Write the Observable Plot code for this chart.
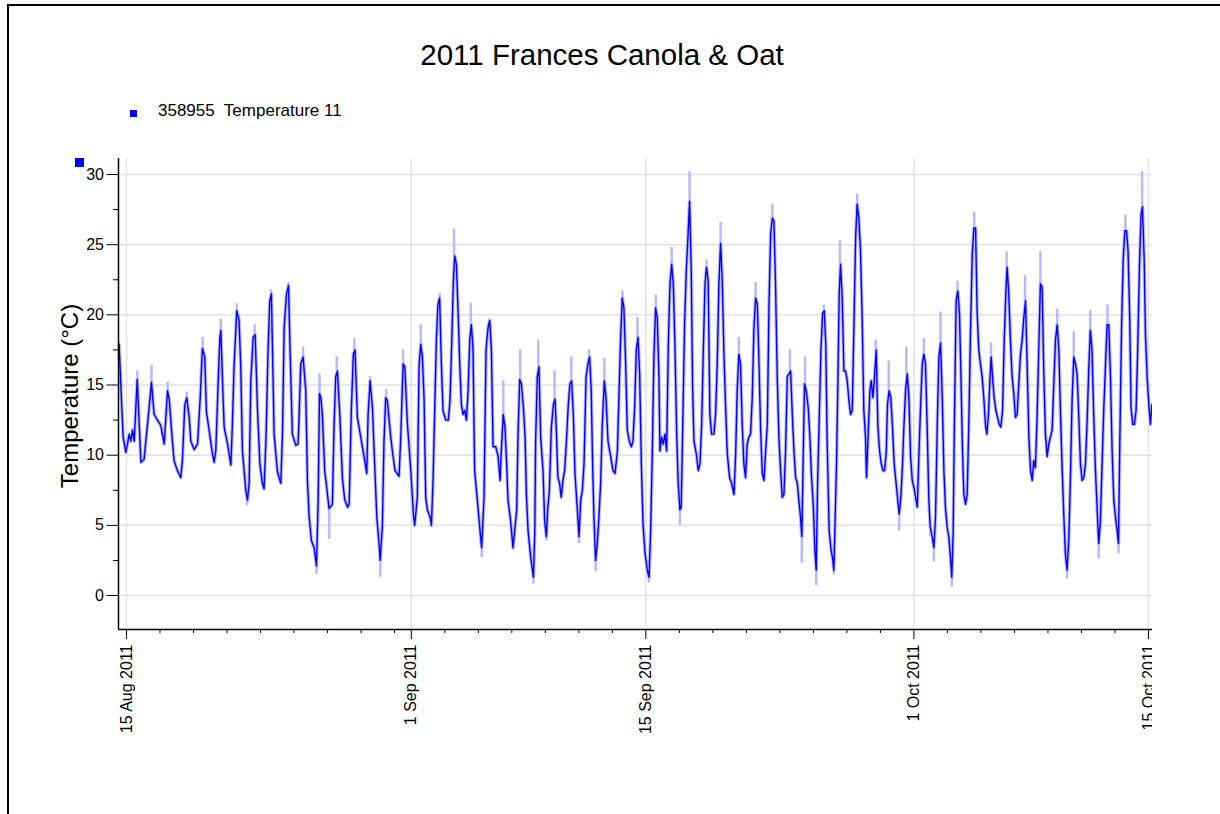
<!DOCTYPE html>
<html>
<head>
<meta charset="utf-8">
<script src="https://cdn.jsdelivr.net/npm/d3@7"></script>
<script src="https://cdn.jsdelivr.net/npm/@observablehq/plot@0.6"></script>
<style>
  body { margin: 0; background: #fff; font-family: "Liberation Sans", Arial, sans-serif; }
  #page { position: relative; width: 1220px; height: 814px; overflow: hidden; background: #fff; }
  .frameTop { position: absolute; left: 7px; top: 4px; width: 1230px; height: 2px; background: #000; }
  .frameLeft { position: absolute; left: 7px; top: 4px; width: 2px; height: 830px; background: #000; }
  #title { position: absolute; left: 0; top: 40px; width: 1204px; text-align: center; font-size: 29.5px; line-height: 1; color: #000; white-space: pre; }
  #legend { position: absolute; left: 130px; top: 110px; width: 7px; height: 7px; background: #0000ff; }
  #legendText { position: absolute; left: 158px; top: 102.3px; font-size: 17px; line-height: 1; color: #000; white-space: pre; }
  #marker { position: absolute; left: 75px; top: 158px; width: 9px; height: 9px; background: #0000ff; z-index: 2; }
  #ylabel { position: absolute; left: -80px; top: 384px; width: 300px; text-align: center; font-size: 24px; line-height: 1; transform: rotate(-90deg); transform-origin: 150px 12px; color: #000; white-space: pre; }
  #chart { position: absolute; left: 0; top: 140px; }
</style>
</head>
<body>
<div id="page">
  <div class="frameTop"></div>
  <div class="frameLeft"></div>
  <div id="title"></div>
  <div id="legend"></div>
  <div id="legendText"></div>
  <div id="ylabel"></div>
  <div id="chart"></div>
  <div id="marker"></div>
</div>
<script>
// ---- Text ----
const chartTitle = "2011 Frances Canola & Oat";
const seriesName = "358955  Temperature 11";
const yTitle = "Temperature (°C)";

// ---- Data: [days since 15 Aug 2011 00:00, temperature °C] ----
const augReadings = [
  [-0.44,17.9],[-0.30,13.9],[-0.20,11.3],[-0.04,10.2],[0.06,10.8],[0.16,11.5],[0.26,11.0],[0.36,11.8],[0.46,11.0],[0.64,15.4],
  [0.86,9.5],[1.05,9.7],[1.35,13.4],[1.49,15.2],[1.65,12.9],[1.85,12.5],[2.05,12.1],[2.25,10.8],[2.45,14.6],[2.55,14.0],
  [2.74,11.0],[2.84,9.6],[3.04,8.9],[3.24,8.4],[3.34,9.7],[3.48,13.6],[3.60,14.1],[3.74,12.7],[3.84,11.0],[4.04,10.4],
  [4.24,10.8],[4.40,14.1],[4.53,17.6],[4.67,17.0],[4.77,13.1],[4.93,11.8],[5.13,10.1],[5.23,9.5],[5.33,10.3],[5.47,15.1],
  [5.57,18.3],[5.63,18.9],[5.73,15.3],[5.83,12.0],[6.03,10.8],[6.23,9.3],[6.32,12.2],[6.42,16.3],[6.58,20.3],[6.72,19.6],
  [6.82,16.3],[6.92,10.3],[7.12,7.5],[7.22,6.8],[7.32,8.0],[7.42,15.3],[7.56,18.4],[7.68,18.6],[7.82,13.2],[7.96,9.4],
  [8.11,8.0],[8.21,7.6],[8.33,11.3],[8.45,17.5],[8.55,21.0],[8.65,21.5],[8.75,15.3],[8.81,11.5],[9.01,8.8],[9.21,8.0],
  [9.31,11.5],[9.41,19.1],[9.55,21.5],[9.67,22.1],[9.77,17.2],[9.90,11.5],[10.10,10.7],[10.24,10.8],[10.30,12.7],[10.40,16.5],
  [10.54,17.0],[10.70,14.6],[10.80,8.2],[10.90,5.6],[11.04,3.9],[11.20,3.4],[11.34,2.1],[11.44,6.8],[11.52,14.4],[11.60,14.1],
  [11.69,12.9],[11.83,8.9],[11.95,7.7],[12.09,6.2],[12.29,6.5],[12.39,12.2],[12.49,15.6],[12.59,16.0],[12.73,12.9],[12.89,8.3],
  [13.03,6.8],[13.19,6.3],[13.29,6.5],[13.42,13.2],[13.54,17.2],[13.64,17.5],[13.78,12.7],[13.98,11.3],[14.18,9.9],[14.34,8.7],
  [14.42,12.9],[14.54,15.3],[14.68,13.4],[14.78,10.3],[14.94,5.6],[15.08,3.6],[15.14,2.5],[15.27,4.9],[15.37,11.0],[15.47,14.1],
  [15.57,13.9],[15.77,11.3],[15.87,10.3],[16.03,8.9],[16.27,8.5],[16.37,11.3],[16.51,16.5],[16.61,16.3],[16.77,12.2],[16.97,8.9]
];
const sepReadings = [
  [17.12,5.9],[17.20,5.0],[17.36,7.0],[17.46,16.3],[17.56,17.9],[17.66,17.0],[17.76,14.1],[17.86,7.0],[17.96,6.1],[18.12,5.6],
  [18.20,5.0],[18.30,8.3],[18.40,13.4],[18.50,18.4],[18.59,20.7],[18.69,21.2],[18.79,16.7],[18.89,13.2],[19.05,12.5],[19.21,12.5],
  [19.31,13.9],[19.41,17.9],[19.51,22.4],[19.59,24.2],[19.69,23.6],[19.79,20.3],[19.89,16.5],[19.99,13.6],[20.09,12.9],[20.19,13.2],
  [20.29,12.5],[20.39,14.6],[20.49,18.2],[20.58,19.3],[20.68,17.7],[20.78,8.9],[20.94,6.8],[21.08,4.9],[21.20,3.4],[21.34,7.0],
  [21.46,17.5],[21.58,19.1],[21.68,19.6],[21.78,17.5],[21.88,10.6],[22.04,10.6],[22.18,9.9],[22.30,8.2],[22.37,10.3],[22.49,12.9],
  [22.59,12.0],[22.69,9.4],[22.77,6.8],[22.93,5.3],[23.07,3.4],[23.17,4.6],[23.29,6.1],[23.37,11.5],[23.47,15.4],[23.57,15.1],
  [23.69,13.4],[23.79,11.3],[23.87,7.2],[23.97,4.6],[24.13,2.7],[24.29,1.3],[24.37,4.6],[24.42,11.0],[24.52,15.6],[24.62,16.3],
  [24.72,11.3],[24.86,8.9],[24.96,5.3],[25.06,4.2],[25.14,6.1],[25.24,7.5],[25.36,12.0],[25.48,13.6],[25.58,14.0],[25.65,12.0],
  [25.75,8.4],[25.85,8.0],[25.95,7.0],[26.05,8.2],[26.15,8.9],[26.25,10.8],[26.37,13.6],[26.47,15.1],[26.57,15.3],[26.67,12.9],
  [26.77,8.7],[26.91,6.1],[27.01,4.2],[27.11,6.8],[27.21,7.5],[27.31,9.4],[27.43,15.6],[27.54,16.5],[27.64,17.0],[27.74,14.6],
  [27.82,9.4],[27.90,5.6],[28.00,2.5],[28.10,3.7],[28.20,5.6],[28.30,8.0],[28.40,12.2],[28.52,15.3],[28.62,14.1],[28.74,11.0],
  [28.90,9.9],[29.04,8.9],[29.16,8.7],[29.30,10.3],[29.39,14.1],[29.49,18.2],[29.59,21.2],[29.69,20.5],[29.79,16.7],[29.89,11.8],
  [30.01,11.0],[30.13,10.6],[30.23,11.0],[30.33,13.4],[30.43,17.5],[30.53,18.4],[30.63,15.8],[30.73,9.4],[30.83,5.1],[30.95,3.0],
  [31.09,1.8],[31.19,1.3],[31.28,4.4],[31.38,9.9],[31.48,17.0],[31.58,20.5],[31.68,19.8],[31.78,15.6],[31.84,10.3],[31.94,11.3],
  [32.04,10.8],[32.14,11.5],[32.24,10.3],[32.34,17.9],[32.44,22.2],[32.54,23.6],[32.64,22.2],[32.74,17.5],[32.84,11.5],[32.93,8.0],
  [33.03,6.1],[33.11,6.3],[33.21,12.7],[33.31,19.3],[33.41,23.1],[33.51,25.5],[33.61,28.1],[33.71,23.1],[33.79,14.8],[33.87,11.0],
  [34.01,10.1],[34.13,8.9],[34.23,9.4],[34.33,12.2],[34.43,17.5],[34.53,22.2],[34.62,23.4],[34.72,22.4],[34.82,12.9],[34.92,11.5],
  [35.06,11.5],[35.16,12.9],[35.26,16.5],[35.36,22.2],[35.46,25.1],[35.56,22.4],[35.66,17.2],[35.76,13.4],[35.86,10.1],[36.00,8.4],
  [36.12,8.0],[36.26,7.2],[36.36,10.1],[36.45,14.6],[36.55,17.2],[36.65,16.5],[36.75,12.2],[36.85,9.4],[36.95,8.4],[37.05,10.8],
  [37.15,11.3],[37.25,11.5],[37.35,14.1],[37.45,19.1],[37.55,21.2],[37.65,20.8],[37.75,16.7],[37.85,11.8],[37.95,8.7],[38.05,8.2],
  [38.15,10.3],[38.25,12.2],[38.35,20.8],[38.45,25.8],[38.55,26.9],[38.64,26.7],[38.74,22.2],[38.84,15.6],[38.94,11.3],[39.04,8.9],
  [39.14,7.0],[39.24,7.2],[39.34,10.3],[39.44,15.6],[39.54,15.8],[39.64,16.0],[39.74,12.9],[39.84,10.3],[39.94,8.4],[40.04,8.0],
  [40.13,6.8],[40.23,5.6],[40.31,4.2],[40.37,8.4],[40.47,15.1],[40.57,14.6],[40.69,13.4],[40.79,11.3],[40.89,8.4],[40.99,6.5],
  [41.09,3.2],[41.17,1.8],[41.25,8.0],[41.35,12.7],[41.45,17.5],[41.55,20.1],[41.65,20.3],[41.74,17.9],[41.82,11.0],[41.94,4.6],
  [42.06,3.2],[42.14,2.7],[42.22,1.8],[42.30,5.6],[42.38,9.4],[42.46,15.1],[42.54,21.5],[42.62,23.6],[42.72,21.2],[42.82,16.0],
  [42.92,16.0],[43.02,15.3],[43.12,13.9],[43.22,12.9],[43.32,13.2],[43.42,19.3],[43.52,25.5],[43.61,27.9],[43.71,26.9],[43.81,24.6],
  [43.91,19.8],[44.01,13.2],[44.11,11.3],[44.17,8.4],[44.27,11.5],[44.37,14.6],[44.45,15.3],[44.55,14.1],[44.65,15.6],[44.75,17.5],
  [44.85,12.0],[44.95,10.3],[45.05,9.4],[45.15,8.9],[45.25,8.9],[45.35,10.3],[45.42,13.6],[45.52,14.6],[45.62,14.1],[45.72,12.0],
  [45.82,9.4],[45.92,8.2],[46.02,7.0],[46.12,5.8],[46.22,7.0],[46.32,9.4],[46.40,12.0],[46.50,14.6],[46.60,15.8],[46.70,14.1],
  [46.80,9.9],[46.90,8.2]
];
const octReadings = [
  [47.00,7.7],[47.10,7.0],[47.20,6.3],[47.30,10.1],[47.40,13.6],[47.50,16.5],[47.59,17.2],[47.69,16.5],[47.79,12.0],[47.89,6.8],
  [47.97,4.9],[48.09,4.2],[48.19,3.4],[48.29,5.6],[48.39,12.0],[48.49,17.0],[48.59,18.0],[48.69,14.1],[48.79,8.9],[48.88,6.3],
  [48.98,4.9],[49.08,4.2],[49.18,2.7],[49.26,1.3],[49.34,4.4],[49.42,12.7],[49.52,21.0],[49.62,21.7],[49.72,20.1],[49.80,16.0],
  [49.90,10.3],[49.98,7.2],[50.08,6.5],[50.18,7.2],[50.28,12.5],[50.38,18.9],[50.48,24.3],[50.58,26.2],[50.68,26.2],[50.77,20.3],
  [50.87,17.5],[50.97,16.5],[51.07,15.6],[51.17,14.1],[51.27,12.2],[51.35,11.5],[51.45,12.9],[51.53,15.3],[51.61,17.0],[51.69,15.6],
  [51.79,14.1],[51.89,13.2],[51.99,12.7],[52.09,12.2],[52.19,12.0],[52.29,13.2],[52.39,18.2],[52.49,21.7],[52.56,23.4],[52.66,21.5],
  [52.76,18.2],[52.86,15.6],[52.96,14.4],[53.06,12.7],[53.16,12.9],[53.26,15.1],[53.36,17.2],[53.46,18.2],[53.56,19.8],[53.66,21.0],
  [53.76,16.3],[53.86,11.3],[53.96,8.9],[54.06,8.2],[54.15,9.6],[54.25,9.1],[54.35,12.7],[54.45,17.5],[54.55,22.2],[54.65,22.0],
  [54.75,16.0],[54.85,11.5],[54.95,9.9],[55.05,10.8],[55.15,11.3],[55.25,11.8],[55.35,15.1],[55.45,18.2],[55.55,19.3],[55.65,17.5],
  [55.75,12.9],[55.85,8.9],[55.95,5.6],[56.04,3.0],[56.14,1.8],[56.24,3.9],[56.34,8.4],[56.44,13.9],[56.54,17.0],[56.64,16.5],
  [56.74,15.8],[56.84,12.7],[56.94,9.4],[57.04,8.2],[57.14,8.4],[57.24,9.4],[57.34,12.5],[57.44,16.3],[57.53,18.9],[57.63,17.5],
  [57.73,12.9],[57.83,9.1],[57.93,6.3],[58.03,3.7],[58.13,5.3],[58.23,9.4],[58.33,13.2],[58.43,16.3],[58.53,19.3],[58.63,19.3],
  [58.73,15.6],[58.83,10.3],[58.93,6.8],[59.03,5.6],[59.13,4.6],[59.21,3.7],[59.29,11.0],[59.39,18.9],[59.49,23.9],[59.59,26.0],
  [59.69,26.0],[59.78,24.6],[59.88,19.8],[59.96,13.4],[60.06,12.2],[60.16,12.2],[60.26,13.2],[60.36,17.7],[60.46,23.4],[60.56,27.2],
  [60.64,27.7],[60.74,24.1],[60.82,18.6],[60.92,15.6],[61.02,13.6],[61.12,12.2],[61.20,13.6],[61.26,12.9]
];
// Light-blue min/max envelope spikes: [days since 15 Aug, line value, envelope tip]
const envelopePeaks = [
  [0.64,15.4,16.0],[1.49,15.2,16.4],[2.45,14.6,15.2],[3.60,14.1,14.5],[4.55,17.6,18.4],[5.63,18.9,19.7],[6.58,20.3,20.8],
  [7.65,18.6,19.3],[8.62,21.5,21.8],[9.67,22.1,22.3],[10.54,17.0,17.7],[11.52,14.4,15.8],[12.55,16.0,17.0],[13.60,17.5,18.3],
  [14.54,15.3,15.6],[15.50,14.1,14.7],[16.51,16.5,17.5],[17.56,17.9,19.3],[18.69,21.2,21.5],[19.55,24.2,26.1],[20.55,19.3,20.8],
  [21.65,19.6,19.7],[22.49,12.9,15.3],[23.50,15.4,17.5],[24.58,16.3,18.2],[25.55,14.0,16.0],[26.55,15.3,17.0],[27.60,17.0,17.5],
  [28.52,15.3,16.9],[29.60,21.2,21.7],[30.50,18.4,19.8],[31.60,20.5,21.4],[32.54,23.6,24.8],[33.61,28.1,30.2],[34.62,23.4,23.9],
  [35.46,25.1,26.6],[36.55,17.2,18.4],[37.55,21.2,22.3],[38.55,26.9,27.9],[39.60,16.0,17.5],[40.50,15.1,17.0],[41.62,20.3,20.7],
  [42.58,23.6,25.3],[43.61,27.9,28.6],[44.72,17.5,18.2],[45.50,14.6,16.7],[46.55,15.8,17.7],[47.59,17.2,18.3],[48.59,18.0,20.2],
  [49.60,21.7,22.4],[50.60,26.2,27.3],[51.60,17.0,18.0],[52.53,23.4,24.5],[53.63,21.0,22.8],[54.55,22.2,24.5],[55.55,19.3,20.4],
  [56.54,17.0,18.8],[57.53,18.9,20.3],[58.55,19.3,20.7],[59.62,26.0,27.1],[60.62,27.7,30.2]
];
const envelopeTroughs = [
  [7.20,6.8,6.4],[11.34,2.1,1.5],[12.10,6.2,4.0],[15.14,2.5,1.3],[21.20,3.4,2.7],[23.07,3.4,3.3],[24.29,1.3,0.8],[25.06,4.2,3.9],
  [27.01,4.2,3.7],[28.00,2.5,1.7],[31.19,1.3,0.9],[33.03,6.1,5.0],[40.31,4.2,2.3],[41.17,1.8,0.7],[42.22,1.8,1.5],[46.12,5.8,4.6],
  [47.97,4.9,4.2],[48.19,3.4,2.4],[49.26,1.3,0.6],[56.14,1.8,1.2],[58.03,3.7,2.6],[59.21,3.7,3.0]
];

// ---- Axis ticks ----
const yMajorTicks = [0, 5, 10, 15, 20, 25, 30];
const yMinorTicks = [2.5, 7.5, 12.5, 17.5, 22.5, 27.5];
const xMajorTickDates = ["2011-08-15", "2011-09-01", "2011-09-15", "2011-10-01", "2011-10-15"];
const xMinorTickDates = [
  "2011-08-17","2011-08-19","2011-08-21","2011-08-23","2011-08-25","2011-08-27","2011-08-29","2011-08-31",
  "2011-09-03","2011-09-05","2011-09-07","2011-09-09","2011-09-11","2011-09-13",
  "2011-09-17","2011-09-19","2011-09-21","2011-09-23","2011-09-25","2011-09-27","2011-09-29",
  "2011-10-03","2011-10-05","2011-10-07","2011-10-09","2011-10-11","2011-10-13"
];
const xDomainDays = [-0.477, 61.24];
const yDomain = [-2.42, 31.14];

// ---- Build ----
const T0 = Date.UTC(2011, 7, 15);
const toDate = d => new Date(T0 + d * 864e5);
const series = [...augReadings, ...sepReadings, ...octReadings].map(([d, v]) => ({date: toDate(d), temp: v}));
const envelope = [...envelopePeaks, ...envelopeTroughs].map(([d, a, b]) => ({date: toDate(d), a, b}));
const xMajor = xMajorTickDates.map(s => new Date(s + "T00:00:00Z"));
const xMinor = xMinorTickDates.map(s => new Date(s + "T00:00:00Z"));
const xDomain = xDomainDays.map(toDate);

const blue = "#0000ff";
const light = "#b9b9ff";
const grid = "#e2e2e2";

const chart = Plot.plot({
  width: 1152,
  height: 674,
  marginLeft: 118,
  marginRight: 0,
  marginTop: 18,
  marginBottom: 185,
  x: {type: "utc", domain: xDomain},
  y: {domain: yDomain},
  style: {background: "transparent", fontFamily: "'Liberation Sans', Arial, sans-serif", fontSize: "16px", color: "#000", overflow: "hidden"},
  marks: [
    Plot.gridY(yMajorTicks, {stroke: grid, strokeOpacity: 1, strokeWidth: 1.5}),
    Plot.gridX(xMajor, {stroke: grid, strokeOpacity: 1, strokeWidth: 1.5}),
    Plot.ruleX(envelope, {x: "date", y1: "a", y2: "b", stroke: light, strokeWidth: 2.5}),
    Plot.line(series, {x: "date", y: "temp", stroke: light, strokeWidth: 3.5}),
    Plot.line(series, {x: "date", y: "temp", stroke: blue, strokeWidth: 1.4}),
    Plot.axisY(yMajorTicks, {tickSize: 11.5, tickPadding: 3, label: null, stroke: "#000", fontSize: 16}),
    Plot.axisY(yMinorTicks, {tickSize: 5, tickFormat: () => "", label: null, stroke: "#000"}),
    Plot.axisX(xMajor, {tickSize: 10, tickPadding: 5, tickRotate: -90, tickFormat: d3.utcFormat("%-d %b %Y"), label: null, stroke: "#000", fontSize: 16}),
    Plot.axisX(xMinor, {tickSize: 4, tickFormat: () => "", label: null, stroke: "#000"}),
    Plot.ruleX([xDomain[0]], {stroke: "#000", strokeWidth: 1.5}),
    Plot.ruleY([yDomain[0]], {stroke: "#000", strokeWidth: 1.5})
  ]
});
document.getElementById("chart").appendChild(chart);
document.getElementById("title").textContent = chartTitle;
document.getElementById("legendText").textContent = seriesName;
document.getElementById("ylabel").textContent = yTitle;
</script>
</body>
</html>
